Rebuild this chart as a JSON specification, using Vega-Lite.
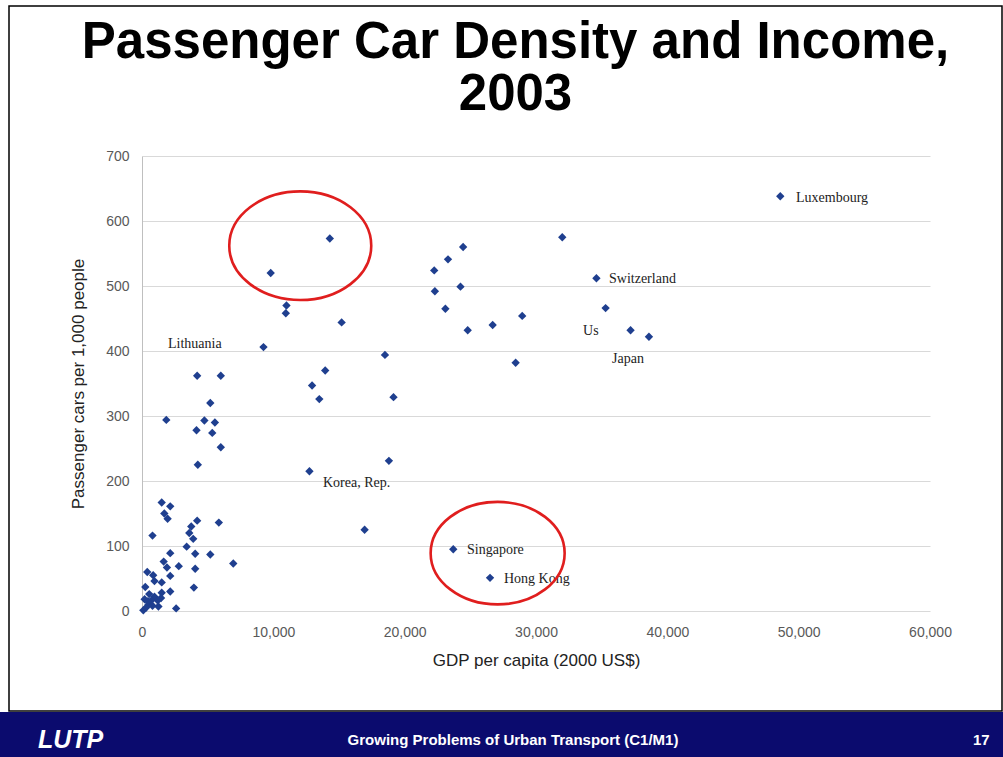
{
  "$schema": "https://vega.github.io/schema/vega-lite/v6.json",
  "background": "white",
  "padding": {"top": 5, "left": 0, "right": 0, "bottom": 0},
  "config": {"view": {"stroke": null}},
  "datasets": {
    "countries": [
      {"country": "Luxembourg", "gdp": 48600, "cars": 638},
      {"country": "Switzerland", "gdp": 34600, "cars": 512},
      {"country": "United States", "gdp": 35300, "cars": 466},
      {"country": "", "gdp": 37200, "cars": 432},
      {"country": "Japan", "gdp": 38600, "cars": 422},
      {"country": "", "gdp": 32000, "cars": 575},
      {"country": "Singapore", "gdp": 23700, "cars": 95},
      {"country": "Hong Kong", "gdp": 26500, "cars": 51},
      {"country": "", "gdp": 9800, "cars": 520},
      {"country": "", "gdp": 14300, "cars": 573},
      {"country": "", "gdp": 11000, "cars": 470},
      {"country": "", "gdp": 10950, "cars": 458},
      {"country": "", "gdp": 15200, "cars": 444},
      {"country": "", "gdp": 9250, "cars": 406},
      {"country": "", "gdp": 18500, "cars": 394},
      {"country": "", "gdp": 13950, "cars": 370},
      {"country": "", "gdp": 12950, "cars": 347},
      {"country": "", "gdp": 13500, "cars": 326},
      {"country": "", "gdp": 19150, "cars": 329},
      {"country": "", "gdp": 22250, "cars": 524},
      {"country": "", "gdp": 23300, "cars": 541},
      {"country": "", "gdp": 24450, "cars": 560},
      {"country": "", "gdp": 22300, "cars": 492},
      {"country": "", "gdp": 24250, "cars": 499},
      {"country": "", "gdp": 23100, "cars": 465},
      {"country": "", "gdp": 24800, "cars": 432},
      {"country": "", "gdp": 26700, "cars": 440},
      {"country": "", "gdp": 28950, "cars": 454},
      {"country": "", "gdp": 28450, "cars": 382},
      {"country": "Lithuania", "gdp": 4200, "cars": 362},
      {"country": "", "gdp": 6000, "cars": 362},
      {"country": "", "gdp": 5200, "cars": 320},
      {"country": "", "gdp": 1850, "cars": 294},
      {"country": "", "gdp": 4750, "cars": 293},
      {"country": "", "gdp": 5550, "cars": 290},
      {"country": "", "gdp": 4150, "cars": 278},
      {"country": "", "gdp": 5350, "cars": 274},
      {"country": "", "gdp": 6000, "cars": 252},
      {"country": "", "gdp": 4250, "cars": 225},
      {"country": "Korea, Rep.", "gdp": 12750, "cars": 215},
      {"country": "", "gdp": 18800, "cars": 231},
      {"country": "", "gdp": 16950, "cars": 125},
      {"country": "", "gdp": 1500, "cars": 167},
      {"country": "", "gdp": 2150, "cars": 161},
      {"country": "", "gdp": 1700, "cars": 150},
      {"country": "", "gdp": 1950, "cars": 142},
      {"country": "", "gdp": 4200, "cars": 139},
      {"country": "", "gdp": 5850, "cars": 136},
      {"country": "", "gdp": 3750, "cars": 130},
      {"country": "", "gdp": 3600, "cars": 120},
      {"country": "", "gdp": 3900, "cars": 111},
      {"country": "", "gdp": 800, "cars": 116},
      {"country": "", "gdp": 3400, "cars": 99},
      {"country": "", "gdp": 2150, "cars": 89},
      {"country": "", "gdp": 4050, "cars": 88},
      {"country": "", "gdp": 5200, "cars": 87},
      {"country": "", "gdp": 6950, "cars": 73},
      {"country": "", "gdp": 1650, "cars": 76},
      {"country": "", "gdp": 2800, "cars": 69},
      {"country": "", "gdp": 1900, "cars": 67},
      {"country": "", "gdp": 4050, "cars": 65},
      {"country": "", "gdp": 400, "cars": 60},
      {"country": "", "gdp": 850, "cars": 55},
      {"country": "", "gdp": 2150, "cars": 54},
      {"country": "", "gdp": 950, "cars": 46},
      {"country": "", "gdp": 1500, "cars": 44},
      {"country": "", "gdp": 250, "cars": 37},
      {"country": "", "gdp": 3950, "cars": 36},
      {"country": "", "gdp": 2150, "cars": 30},
      {"country": "", "gdp": 1500, "cars": 28},
      {"country": "", "gdp": 550, "cars": 26},
      {"country": "", "gdp": 950, "cars": 22},
      {"country": "", "gdp": 200, "cars": 18},
      {"country": "", "gdp": 1250, "cars": 7},
      {"country": "", "gdp": 2600, "cars": 4},
      {"country": "", "gdp": 100, "cars": 1},
      {"country": "", "gdp": 500, "cars": 10},
      {"country": "", "gdp": 700, "cars": 16},
      {"country": "", "gdp": 1450, "cars": 20},
      {"country": "", "gdp": 300, "cars": 5},
      {"country": "", "gdp": 1200, "cars": 16},
      {"country": "", "gdp": 450, "cars": 15},
      {"country": "", "gdp": 800, "cars": 8}
    ],
    "labels": [
      {"text": "Luxembourg", "gdp": 49800, "cars": 635},
      {"text": "Switzerland", "gdp": 35560, "cars": 511},
      {"text": "Singapore", "gdp": 24750, "cars": 94},
      {"text": "Hong Kong", "gdp": 27560, "cars": 49},
      {"text": "Lithuania", "gdp": 1980, "cars": 411},
      {"text": "Korea, Rep.", "gdp": 13780, "cars": 197},
      {"text": "Us", "gdp": 33580, "cars": 431},
      {"text": "Japan", "gdp": 35790, "cars": 388}
    ],
    "circles": [
      {"group": "upper", "gdp": 12050, "cars": 562},
      {"group": "lower", "gdp": 27080, "cars": 89}
    ],
    "footer": [
      {"slot": "left", "text": "LUTP"},
      {"slot": "center", "text": "Growing Problems of Urban Transport (C1/M1)"},
      {"slot": "right", "text": "17"}
    ]
  },
  "spacing": 0,
  "vconcat": [
    {
      "spacing": 0,
      "hconcat": [
        {
          "width": 8,
          "height": 705,
          "data": {"values": [{"blank": 1}]},
          "mark": {"type": "rect", "fill": "white"},
          "encoding": {}
        },
        {
          "width": 993,
          "height": 705,
          "view": {"stroke": "#000000", "strokeWidth": 1.5},
          "title": {
            "text": ["Passenger Car Density and Income,", "2003"],
            "font": "Liberation Sans",
            "fontSize": 51,
            "fontWeight": "bold",
            "color": "#000000",
            "anchor": "middle",
            "frame": "group",
            "baseline": "top",
            "lineHeight": 52,
            "offset": -115,
            "dx": 10
          },
          "encoding": {
            "x": {
              "field": "gdp",
              "type": "quantitative",
              "scale": {"domain": [0, 60000], "range": [133, 921], "nice": false, "zero": false},
              "axis": {
                "title": "GDP per capita (2000 US$)",
                "values": [0, 10000, 20000, 30000, 40000, 50000, 60000],
                "format": ",d",
                "grid": false,
                "ticks": false,
                "domain": false,
                "offset": -100,
                "labelFont": "Liberation Sans",
                "labelFontSize": 14,
                "labelColor": "#595959",
                "labelPadding": 14,
                "labelFlush": false,
                "labelOverlap": false,
                "titleFont": "Liberation Sans",
                "titleFontSize": 17,
                "titleFontWeight": "normal",
                "titleColor": "#222222",
                "titlePadding": 13
              }
            },
            "y": {
              "field": "cars",
              "type": "quantitative",
              "scale": {"domain": [0, 700], "range": [605, 150], "nice": false, "zero": false},
              "axis": {
                "title": "Passenger cars per 1,000 people",
                "values": [0, 100, 200, 300, 400, 500, 600, 700],
                "grid": true,
                "gridColor": "#d9d9d9",
                "gridWidth": 1,
                "ticks": false,
                "domain": true,
                "domainColor": "#bfbfbf",
                "domainWidth": 1,
                "offset": -133,
                "labelFont": "Liberation Sans",
                "labelFontSize": 14,
                "labelColor": "#595959",
                "labelPadding": 13,
                "labelFlush": false,
                "titleFont": "Liberation Sans",
                "titleFontSize": 17,
                "titleFontWeight": "normal",
                "titleColor": "#222222",
                "titlePadding": 18
              }
            }
          },
          "layer": [
            {
              "data": {"name": "countries"},
              "mark": {"type": "point", "shape": "diamond", "filled": true, "size": 70, "color": "#1f3f8f", "opacity": 1}
            },
            {
              "data": {"name": "labels"},
              "mark": {"type": "text", "align": "left", "baseline": "middle", "font": "Liberation Serif", "fontSize": 14, "color": "#222222"},
              "encoding": {"text": {"field": "text"}}
            },
            {
              "data": {"name": "circles"},
              "transform": [{"filter": "datum.group === 'upper'"}],
              "mark": {
                "type": "point",
                "shape": "M 1 0 C 1 0.4225 0.5523 0.765 0 0.765 C -0.5523 0.765 -1 0.4225 -1 0 C -1 -0.4225 -0.5523 -0.765 0 -0.765 C 0.5523 -0.765 1 -0.4225 1 0 Z",
                "filled": false,
                "stroke": "#e01e1e",
                "strokeWidth": 2.6,
                "size": 20164,
                "opacity": 1
              }
            },
            {
              "data": {"name": "circles"},
              "transform": [{"filter": "datum.group === 'lower'"}],
              "mark": {
                "type": "point",
                "shape": "M 1 0 C 1 0.4225 0.5523 0.765 0 0.765 C -0.5523 0.765 -1 0.4225 -1 0 C -1 -0.4225 -0.5523 -0.765 0 -0.765 C 0.5523 -0.765 1 -0.4225 1 0 Z",
                "filled": false,
                "stroke": "#e01e1e",
                "strokeWidth": 2.6,
                "size": 17956,
                "opacity": 1
              }
            }
          ]
        }
      ]
    },
    {
      "width": 1003,
      "height": 47,
      "data": {"name": "footer"},
      "encoding": {
        "x": {
          "field": "slot",
          "type": "nominal",
          "scale": {"type": "point", "domain": ["left", "center", "right"], "padding": 0.082},
          "axis": null
        },
        "text": {"field": "text"}
      },
      "layer": [
        {
          "mark": {"type": "rect", "color": "#0b0b6e"},
          "encoding": {"x": null, "text": null}
        },
        {
          "transform": [{"filter": "datum.slot === 'left'"}],
          "mark": {"type": "text", "align": "left", "baseline": "middle", "dy": 4, "font": "Liberation Sans", "fontSize": 25, "fontWeight": "bold", "fontStyle": "italic", "color": "#ffffff"}
        },
        {
          "transform": [{"filter": "datum.slot === 'center'"}],
          "mark": {"type": "text", "align": "center", "baseline": "middle", "dy": 4.5, "dx": 11.5, "font": "Liberation Sans", "fontSize": 15, "fontWeight": "bold", "color": "#ffffff"}
        },
        {
          "transform": [{"filter": "datum.slot === 'right'"}],
          "mark": {"type": "text", "align": "left", "baseline": "middle", "dy": 4.5, "dx": 8, "font": "Liberation Sans", "fontSize": 15, "fontWeight": "bold", "color": "#ffffff"}
        }
      ]
    }
  ]
}
